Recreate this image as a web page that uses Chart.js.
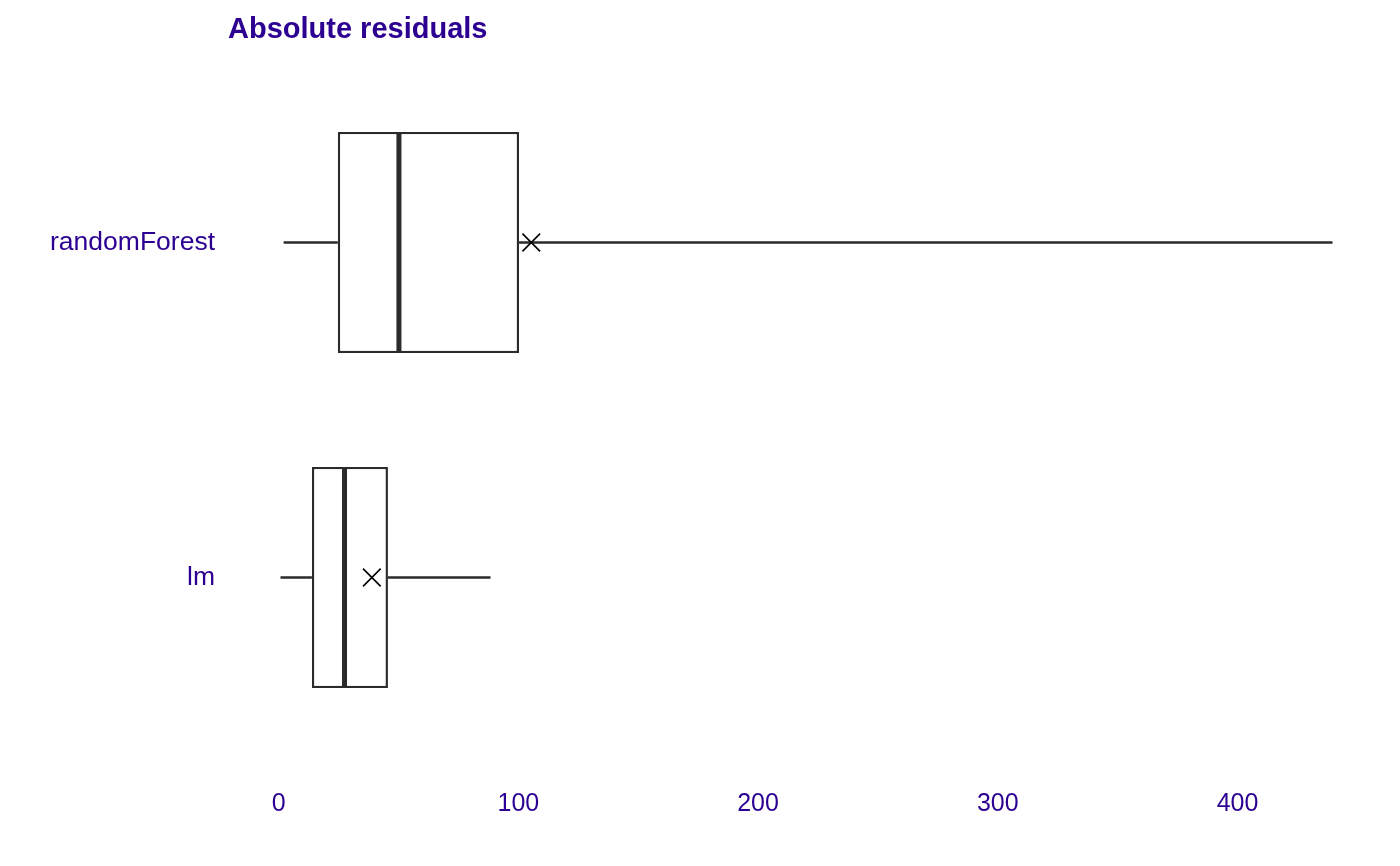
<!DOCTYPE html>
<html><head><meta charset="utf-8">
<script src="https://cdn.jsdelivr.net/npm/chart.js@4.4.0/dist/chart.umd.min.js"></script>
<style>html,body{margin:0;padding:0;background:#fff}#wrap{width:1400px;height:866px}</style>
</head><body><div id="wrap"><canvas id="c" width="1400" height="866"></canvas></div>
<script>
const categories = ['randomForest', 'lm'];
const whiskerLow = [2.1, 0.8];
const q1 = [24.7, 13.9];
const median = [50.2, 27.5];
const q3 = [100.3, 45.6];
const whiskerHigh = [439.6, 88.4];
const means = [105.4, 38.9];
const tickValues = [0, 100, 200, 300, 400];
const chartTitle = 'Absolute residuals';

const textColor = '#2c0091';
const lineColor = '#2b2b2b';
const fontFamily = "'Liberation Sans', Arial, Helvetica, sans-serif";

const boxPlugin = {
  id: 'boxParts',
  beforeDatasetsDraw(chart) {
    const {ctx, scales: {x, y}} = chart;
    ctx.save();
    ctx.strokeStyle = lineColor;
    ctx.lineWidth = 2.4;
    categories.forEach((c, i) => {
      const py = y.getPixelForValue(i);
      ctx.beginPath();
      ctx.moveTo(x.getPixelForValue(whiskerLow[i]), py);
      ctx.lineTo(x.getPixelForValue(q1[i]), py);
      ctx.moveTo(x.getPixelForValue(q3[i]), py);
      ctx.lineTo(x.getPixelForValue(whiskerHigh[i]), py);
      ctx.stroke();
    });
    ctx.restore();
  },
  afterDatasetsDraw(chart) {
    const {ctx, scales: {x}} = chart;
    const meta = chart.getDatasetMeta(0);
    ctx.save();
    ctx.strokeStyle = lineColor;
    ctx.lineWidth = 5;
    categories.forEach((c, i) => {
      const bar = meta.data[i];
      const h = bar.height / 2;
      const px = x.getPixelForValue(median[i]);
      ctx.beginPath();
      ctx.moveTo(px, bar.y - h);
      ctx.lineTo(px, bar.y + h);
      ctx.stroke();
    });
    ctx.restore();
  },
  afterDraw(chart) {
    const {ctx, chartArea} = chart;
    ctx.save();
    ctx.fillStyle = textColor;
    ctx.font = 'bold 29px ' + fontFamily;
    ctx.textBaseline = 'alphabetic';
    ctx.textAlign = 'left';
    ctx.fillText(chartTitle, chartArea.left, 38);
    ctx.restore();
  }
};

new Chart(document.getElementById('c'), {
  type: 'bar',
  data: {
    labels: categories,
    datasets: [
      {
        type: 'bar',
        order: 2,
        data: categories.map((c, i) => [q1[i], q3[i]]),
        backgroundColor: '#ffffff',
        borderColor: lineColor,
        borderWidth: 2.4,
        borderSkipped: false,
        categoryPercentage: 0.66,
        barPercentage: 1.0
      },
      {
        type: 'scatter',
        order: 1,
        data: categories.map((c, i) => ({x: means[i], y: c})),
        pointStyle: 'crossRot',
        radius: 12.5,
        borderColor: '#000000',
        backgroundColor: '#000000',
        borderWidth: 1.6
      }
    ]
  },
  options: {
    indexAxis: 'y',
    responsive: false,
    animation: false,
    devicePixelRatio: 1,
    layout: {padding: {top: 75, right: 15, left: 0, bottom: 0}},
    plugins: {legend: {display: false}, tooltip: {enabled: false}, title: {display: false}},
    scales: {
      x: {
        type: 'linear',
        min: -21.1,
        max: 461.5,
        grid: {display: false, drawTicks: false},
        border: {display: false},
        ticks: {color: textColor, font: {size: 25, family: fontFamily}, padding: 44, maxRotation: 0},
        afterBuildTicks(axis) { axis.ticks = tickValues.map(v => ({value: v})); },
        afterFit(axis) { axis.height = 121; }
      },
      y: {
        type: 'category',
        labels: categories,
        grid: {display: false, drawTicks: false},
        border: {display: false},
        ticks: {color: textColor, font: {size: 26.5, family: fontFamily}, padding: 13},
        afterFit(axis) { axis.width = 228; }
      }
    }
  },
  plugins: [boxPlugin]
});
</script>
</body></html>
